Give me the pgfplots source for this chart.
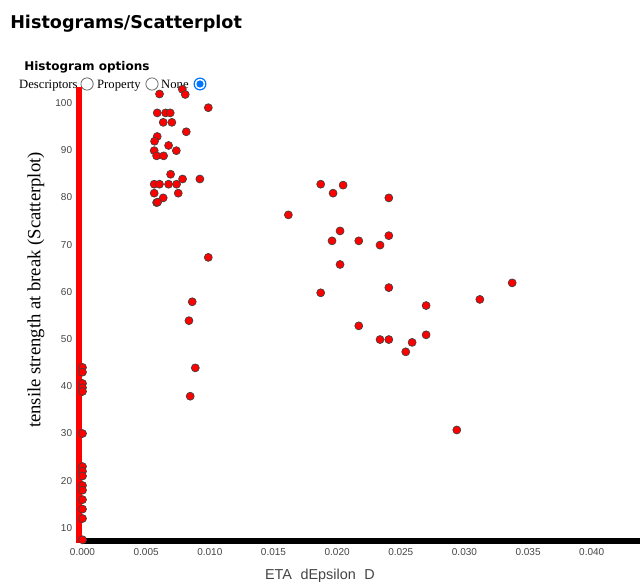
\documentclass[border=0pt]{standalone}
\usepackage{pgfplots}
\pgfplotsset{compat=1.18}
\usepackage{fontspec}
\setmainfont{Liberation Serif}
\newfontfamily\dejavu{DejaVu Sans}
\newfontfamily\arialf{Liberation Sans}
\definecolor{tickgray}{HTML}{444444}
\definecolor{radioblue}{HTML}{0075FF}
\begin{document}
\begin{tikzpicture}
\useasboundingbox (0,0) rectangle (480pt,436.5pt);
% header texts (px -> pt: x*0.75, (582-y)*0.75)
\node[anchor=base west, inner sep=0] at (7.5pt,{(582-29)*0.75pt}) {\dejavu\bfseries\fontsize{13.2}{15}\selectfont Histograms/Scatterplot};
\node[anchor=base west, inner sep=0] at (18pt,{(582-71)*0.75pt}) {\dejavu\bfseries\fontsize{9}{11}\selectfont Histogram options};
\node[anchor=base west, inner sep=0] at (14.2pt,{(582-89)*0.75pt}) {\fontsize{9.5}{11}\selectfont Descriptors};
\draw[gray!80!black, line width=0.6pt, fill=white] (65.3pt,{(582-84)*0.75pt}) circle (4.6pt);
\node[anchor=base west, inner sep=0] at (72.7pt,{(582-89)*0.75pt}) {\fontsize{9.5}{11}\selectfont Property};
\draw[gray!80!black, line width=0.6pt, fill=white] (114pt,{(582-84)*0.75pt}) circle (4.6pt);
\node[anchor=base west, inner sep=0] at (120.7pt,{(582-89)*0.75pt}) {\fontsize{9.5}{11}\selectfont None};
\draw[radioblue, line width=0.9pt, fill=white] (150pt,{(582-84)*0.75pt}) circle (4.4pt);
\fill[radioblue] (150pt,{(582-84)*0.75pt}) circle (2.7pt);
\begin{axis}[
  at={(59.625pt,30.75pt)}, anchor=south west,
  scale only axis, width=420.375pt, height=339.75pt,
  xmin=-0.000236, xmax=0.04379, ymin=7.24, ymax=103.17,
  clip=false,
  axis x line*=bottom, axis y line*=left,
  x axis line style={-, line width=4.5pt, black, shorten <=2pt},
  y axis line style={-, line width=4.5pt, red, shorten >=-1pt, shorten <=-1.5pt},
  major tick length=0pt,
  xtick={0,0.005,0.01,0.015,0.02,0.025,0.03,0.035,0.04},
  ytick={10,20,30,40,50,60,70,80,90,100},
  scaled x ticks=false,
  xticklabel style={/pgf/number format/fixed, /pgf/number format/fixed zerofill, /pgf/number format/precision=3, font=\arialf\fontsize{7.5}{9}\selectfont, text=tickgray, yshift=-2pt},
  yticklabel style={font=\arialf\fontsize{7.5}{9}\selectfont, text=tickgray, xshift=-2pt},
  /pgf/number format/assume math mode=true,
  xlabel={\arialf\fontsize{10.8}{12}\selectfont ETA\hspace{0.6em}dEpsilon\hspace{0.6em}D},
  xlabel style={text=tickgray, at={(axis description cs:0.429,0)}, anchor=base, yshift=-29pt},
  ylabel={\fontsize{14}{16}\selectfont tensile strength at break (Scatterplot)},
  ylabel style={at={(axis description cs:-0.0776,0.554)}, anchor=center},
]
\addplot[only marks, mark=*, mark size=3pt, mark options={fill=red, draw=black!75, line width=0.5pt}] coordinates {
(0.00605,101.9) (0.00784,102.9) (0.00807,101.8) (0.00988,99.0)
(0.00587,97.9) (0.00653,97.9) (0.00689,97.9) (0.00634,95.9) (0.00702,95.9)
(0.00815,93.9) (0.00587,92.9) (0.00566,91.9) (0.00676,91.0)
(0.00563,89.9) (0.00737,89.9) (0.00582,88.8) (0.00637,88.8)
(0.00692,84.9) (0.00786,83.9) (0.00922,83.9)
(0.00563,82.8) (0.00605,82.8) (0.00676,82.8) (0.00739,82.8)
(0.00563,80.9) (0.00752,80.9) (0.00634,79.9) (0.00582,78.9) (0.00590,79.0)
(0.01617,76.3) (0.00988,67.3) (0.00862,57.9) (0.00836,53.9) (0.00886,43.9) (0.00846,37.9)
(0.01871,82.8) (0.02047,82.6) (0.01968,80.9) (0.02406,79.9)
(0.02023,72.9) (0.01960,70.8) (0.02170,70.8) (0.02406,71.9) (0.02337,69.9)
(0.02023,65.8) (0.01871,59.8) (0.02406,60.9) (0.02699,57.1) (0.03121,58.4) (0.03375,61.9)
(0.02170,52.8) (0.02337,49.9) (0.02406,49.9) (0.02589,49.3) (0.02699,50.9) (0.02539,47.3)
(0.02940,30.75)
(0,44) (0,43) (0,40.6) (0,39.7) (0,38.9) (0,30) (0,23) (0,22) (0,21)
(0,19) (0,18) (0,16) (0,14) (0,12) (0,7.5)
};
\end{axis}
\end{tikzpicture}
\end{document}
